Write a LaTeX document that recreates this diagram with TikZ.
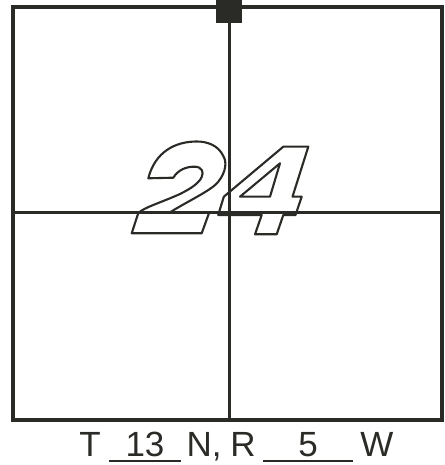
\documentclass[tikz,border=0pt]{standalone}
\usepackage{fontspec}
\setmainfont{Liberation Sans}
\definecolor{ink}{HTML}{2A2A26}
\begin{document}
\begin{tikzpicture}[x=1pt,y=1pt,
  framebox/.style={draw=ink,line width=3.4pt},
  gridline/.style={draw=ink,line width=3pt},
  glyph/.style={draw=ink,line width=2.1pt,line join=round},
  lbl/.style={inner sep=0pt,font=\fontsize{35}{35}\selectfont,text=ink,anchor=base},
  uline/.style={draw=ink,line width=2.4pt}]
\useasboundingbox (0,0) rectangle (444,465);
\coordinate (tl) at (13,458);
\coordinate (br) at (442,45);
\coordinate (tm) at (229,458);
\coordinate (bm) at (229,45);
\coordinate (ml) at (13,252);
\coordinate (mr) at (442,252);
\draw[gridline] (tm) -- (bm);
\draw[gridline] (ml) -- (mr);
\draw[framebox] (tl) rectangle (br);
\node[fill=ink,minimum width=26pt,minimum height=23pt,inner sep=0pt] (tab) at (229,453.5) {};
% outlined italic "24"
\begin{scope}[shift={(0,465)},yscale=-1]
  % digit 2
  \draw[glyph] (131.7,233.3) -- (201.7,233.3) -- (209.3,212.3) -- (170,212.3)
    .. controls (190,200) and (212,190) .. (218.3,181.7)
    .. controls (226,172) and (227,162) .. (223.3,156)
    .. controls (218,145) and (207,141.5) .. (196.7,141.5)
    .. controls (175,141.5) and (155,152) .. (148.3,178.3)
    -- (173.3,177.7)
    .. controls (178,170) and (186,166.5) .. (195,166.7)
    .. controls (202,167) and (204,172) .. (201.7,177)
    .. controls (199,183) and (192,188) .. (180,194)
    .. controls (160,203) and (145,207) .. (138.3,213)
    -- cycle;
  % digit 4
  \draw[glyph] (308.3,146.7) -- (292.5,196.7) -- (301.7,196.7) -- (295.5,215)
    -- (283.3,215) -- (276.7,234.3) -- (255,234.3) -- (261.7,215)
    -- (218.2,215) -- (223.8,196.7) -- (283.3,146.7) -- cycle;
  \draw[glyph] (280,163.3) -- (270,196.7) -- (240,196.7) -- cycle;
\end{scope}
\node[lbl] (t) at (90,9) {T};
\node[lbl] (n13) at (145,9) {13};
\node[lbl] (n) at (204,9) {N,};
\node[lbl] (r) at (243,9) {R};
\node[lbl] (n5) at (308,9) {5};
\node[lbl] (w) at (377,9) {W};
\coordinate (u1a) at (109,4); \coordinate (u1b) at (181,4);
\coordinate (u2a) at (263,4); \coordinate (u2b) at (353,4);
\draw[uline] (u1a) -- (u1b);
\draw[uline] (u2a) -- (u2b);
\end{tikzpicture}
\end{document}
